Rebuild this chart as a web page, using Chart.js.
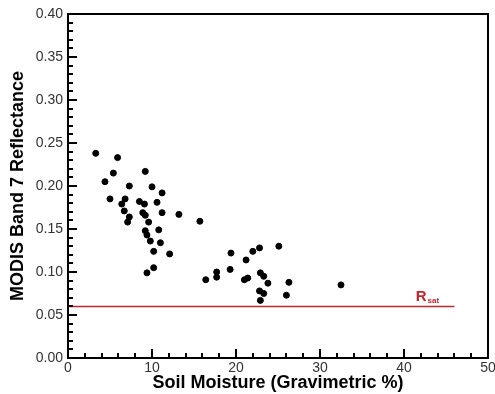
<!DOCTYPE html>
<html>
<head>
<meta charset="utf-8">
<script src="https://cdn.jsdelivr.net/npm/chart.js@4/dist/chart.umd.min.js"></script>
<style>
  html, body { margin: 0; padding: 0; background: #fff; }
  #wrap { width: 495px; height: 394px; }
</style>
</head>
<body>
<div id="wrap"><canvas id="chart" width="495" height="394"></canvas></div>
<script>
// soil moisture (gravimetric %) vs MODIS band 7 reflectance
const moisture = [3.3, 5.9, 5.4, 9.2, 4.4, 7.3, 10.0, 11.2, 5.0, 6.8, 8.5, 6.4, 9.1, 10.6, 6.7, 8.9,
  9.2, 11.2, 13.2, 15.7, 7.3, 7.1, 9.6, 9.2, 10.8, 9.4, 9.8, 11.0, 10.2, 12.1, 10.2, 9.4, 16.4,
  19.4, 22.0, 22.8, 25.1, 21.2, 19.3, 17.7, 17.7, 21.0, 21.4, 22.9, 23.3, 23.8, 26.3, 32.5,
  22.8, 23.3, 26.0, 22.9];
const reflectance = [0.238, 0.233, 0.215, 0.217, 0.205, 0.200, 0.199, 0.192, 0.185, 0.185, 0.182, 0.179, 0.179, 0.181, 0.171, 0.169,
  0.166, 0.169, 0.167, 0.159, 0.164, 0.158, 0.158, 0.148, 0.149, 0.143, 0.136, 0.134, 0.124, 0.121, 0.105, 0.099, 0.091,
  0.122, 0.124, 0.128, 0.130, 0.114, 0.103, 0.100, 0.094, 0.091, 0.093, 0.099, 0.095, 0.087, 0.088, 0.085,
  0.078, 0.075, 0.073, 0.067];
const rsat = 0.06;
const rsatRange = [0, 46];
const xTicks = [0, 10, 20, 30, 40, 50];
const yTicks = [0, 0.05, 0.10, 0.15, 0.20, 0.25, 0.30, 0.35, 0.40];

const points = moisture.map((m, i) => ({ x: m, y: reflectance[i] }));
const satLine = rsatRange.map(x => ({ x: x, y: rsat }));

// box, inward ticks and the R_sat label
const framePlugin = {
  id: 'frame',
  afterDraw(chart) {
    const ctx = chart.ctx;
    const a = chart.chartArea;
    const xs = chart.scales.x, ys = chart.scales.y;
    ctx.save();
    ctx.fillStyle = '#000';
    for (let v = 0; v <= 50; v += 2) {
      const px = Math.round(xs.getPixelForValue(v));
      const len = v % 10 === 0 ? 9 : 5;
      ctx.fillRect(px - 1, a.bottom - len, 2, len);
    }
    for (let i = 0; i <= 40; i++) {
      const py = Math.round(ys.getPixelForValue(i / 100));
      const len = i % 5 === 0 ? 9 : 5;
      ctx.fillRect(a.left, py - 1, len, 2);
    }
    ctx.strokeStyle = '#000';
    ctx.lineWidth = 2;
    ctx.beginPath();
    ctx.moveTo(a.left, a.top);
    ctx.lineTo(a.right, a.top);
    ctx.lineTo(a.right, a.bottom);
    ctx.stroke();

    ctx.fillStyle = '#c0262b';
    ctx.textBaseline = 'alphabetic';
    const tx = xs.getPixelForValue(41.4), ty = ys.getPixelForValue(rsat) - 5;
    ctx.font = 'bold 15px "Liberation Sans", Arial, sans-serif';
    ctx.fillText('R', tx, ty);
    const w = ctx.measureText('R').width;
    ctx.font = 'bold 8px "Liberation Sans", Arial, sans-serif';
    ctx.fillText('sat', tx + w + 1, ty + 2);
    ctx.restore();
  }
};

new Chart(document.getElementById('chart'), {
  type: 'scatter',
  data: {
    datasets: [
      { data: points, backgroundColor: '#000', borderColor: '#000', pointRadius: 3, pointHoverRadius: 3 },
      { data: satLine, showLine: true, borderColor: '#c0262b', borderWidth: 1.5, pointRadius: 0 }
    ]
  },
  options: {
    responsive: false,
    animation: false,
    layout: { padding: { top: 14, right: 0, left: 0, bottom: 0 } },
    plugins: { legend: { display: false }, tooltip: { enabled: false } },
    scales: {
      x: {
        type: 'linear', min: 0, max: 50,
        afterBuildTicks: s => { s.ticks = xTicks.map(v => ({ value: v })); },
        afterFit: s => { s.height = 36; s.paddingRight = 7; s.paddingLeft = 0; },
        grid: { display: false, drawTicks: false },
        border: { color: '#000', width: 2 },
        ticks: { color: '#333', padding: 2, font: { family: '"Liberation Sans", Arial', size: 14 } },
        title: { display: true, text: 'Soil Moisture (Gravimetric %)', color: '#000',
          padding: { top: 0, bottom: 0 },
          font: { family: '"Liberation Sans", Arial', size: 18, weight: 'bold' } }
      },
      y: {
        type: 'linear', min: 0, max: 0.4,
        afterBuildTicks: s => { s.ticks = yTicks.map(v => ({ value: v })); },
        afterFit: s => { s.width = 68; },
        grid: { display: false, drawTicks: false },
        border: { color: '#000', width: 2 },
        ticks: { color: '#333', padding: 5, callback: v => v.toFixed(2),
          font: { family: '"Liberation Sans", Arial', size: 14 } },
        title: { display: true, text: 'MODIS Band 7 Reflectance', color: '#000',
          padding: { top: 7, bottom: 0 },
          font: { family: '"Liberation Sans", Arial', size: 18, weight: 'bold' } }
      }
    }
  },
  plugins: [framePlugin]
});
</script>
</body>
</html>
